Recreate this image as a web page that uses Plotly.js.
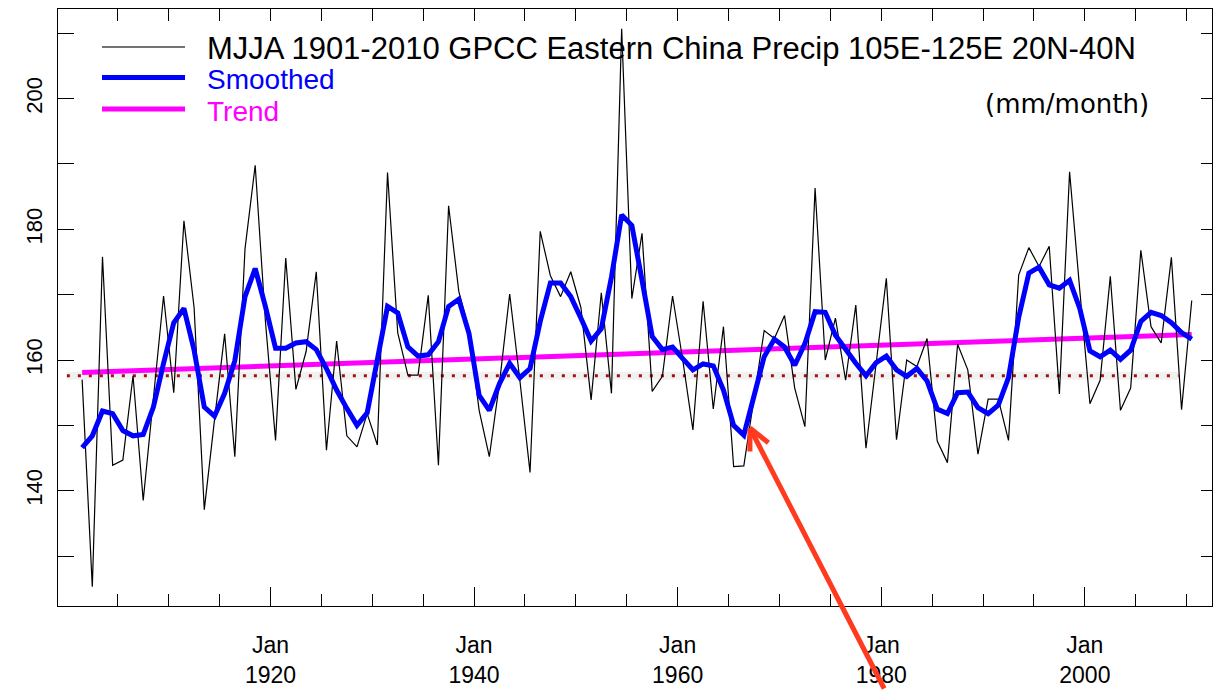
<!DOCTYPE html>
<html><head><meta charset="utf-8">
<script src="https://cdn.plot.ly/plotly-3.0.1.min.js"></script>
<style>html,body{margin:0;padding:0;background:#fff}#chart{width:1217px;height:690px}</style>
</head><body><div id="chart"></div>
<script>
// ---- data ----
const firstYear = 1901;
const precip = [
 157.0,125.3,175.8,143.9,144.7,157.6,138.5,154.1,169.8,155.0,
 181.3,168.0,137.1,150.8,164.0,145.2,177.0,189.8,166.0,147.7,
 175.6,155.5,161.3,173.5,146.2,162.9,148.4,146.7,151.8,147.0,
 188.7,164.2,157.7,157.7,169.9,143.9,183.6,170.5,164.6,152.3,
 145.2,156.5,170.1,156.9,142.8,179.7,172.9,169.7,173.5,168.0,
 153.9,170.3,154.9,210.7,169.4,179.4,155.2,157.5,169.8,160.0,
 149.3,169.0,152.5,165.1,143.7,143.8,153.9,164.5,163.3,166.8,
 155.7,149.8,186.3,160.0,166.4,156.9,168.4,146.5,159.5,172.5,
 147.8,160.0,159.0,163.3,147.6,144.3,162.4,158.5,145.6,154.0,
 154.0,147.7,173.0,177.2,174.3,177.4,154.8,188.8,170.7,153.3,
 156.9,172.8,152.3,155.7,176.8,165.1,162.6,175.7,152.4,169.1
];
const smoothed = [
 146.6,148.4,152.2,151.8,149.2,148.4,148.6,152.8,159.5,165.7,
 167.9,161.5,152.8,151.4,154.9,159.9,169.7,174.0,168.2,161.8,
 161.8,162.6,162.8,161.6,158.7,155.4,152.6,150.0,151.9,160.2,
 168.2,167.2,162.0,160.6,160.8,162.8,168.2,169.3,164.1,154.6,
 152.3,156.4,159.5,157.3,158.7,165.9,171.8,171.8,169.7,166.4,
 162.9,164.8,172.7,182.2,180.6,172.2,163.6,161.6,162.0,160.2,
 158.5,159.4,159.1,155.4,150.0,148.5,154.4,160.5,163.2,162.0,
 159.2,162.5,167.4,167.3,163.8,161.5,159.5,157.6,159.6,160.6,
 158.5,157.5,158.7,156.8,152.5,151.8,155.0,155.1,152.7,151.8,
 153.1,157.3,166.5,173.3,174.2,171.5,171.0,172.2,167.9,161.4,
 160.5,161.5,160.1,161.5,165.9,167.3,166.8,165.7,164.2,163.2
];
const trendYears = [1901, 2010];
const trendValues = [158.1, 163.9];
const meanSpan = [1900.0, 2009.2];
const meanLevel = 157.6;
const majorTickYears = [1920, 1940, 1960, 1980, 2000];
const majorTickText = ['Jan<br>1920', 'Jan<br>1940', 'Jan<br>1960', 'Jan<br>1980', 'Jan<br>2000'];
const minorTickYears = [1905,1910,1915,1925,1930,1935,1945,1950,1955,1965,1970,1975,1985,1990,1995,2005,2010];
const topTickYears = [1905,1910,1915,1920,1925,1930,1935,1940,1945,1950,1955,1960,1965,1970,1975,1980,1985,1990,1995,2000,2005,2010];
const yTickVals = [130, 140, 150, 160, 170, 180, 190, 200, 210];
const yTickText = ['', '140', '', '160', '', '180', '', '200', ''];
const legendLabels = ['MJJA 1901-2010 GPCC Eastern China Precip 105E-125E 20N-40N', 'Smoothed', 'Trend'];
const unitsLabel = '(mm/month)';
const arrowTarget = {year: 1967.1, value: 149.6};

// ---- build ----
const xMid = precip.map((v, i) => firstYear + i + 0.5);
const xRange = [1899.13, 2012.49];
const yRange = [122.36, 213.71];
const FONT = 'Liberation Sans, Arial, Helvetica, sans-serif';
const RED = '#ff3a1e';

const traces = [
  {x: meanSpan, y: [meanLevel, meanLevel], mode: 'lines', line: {color: 'rgba(150,150,150,0.13)', width: 8}, hoverinfo: 'skip'},
  {x: meanSpan, y: [meanLevel, meanLevel], mode: 'lines', line: {color: '#a31010', width: 3, dash: '3px,8px'}, hoverinfo: 'skip'},
  {x: trendYears.map(v => v + 0.5), y: trendValues, mode: 'lines', line: {color: '#ff00ff', width: 5}},
  {x: xMid, y: precip, mode: 'lines', line: {color: '#000', width: 1.2}},
  {x: xMid, y: smoothed, mode: 'lines', line: {color: '#0000ff', width: 5}},
  {x: [], y: [], xaxis: 'x2', yaxis: 'y2', mode: 'lines'}
];

const L = 58, R = 1212, T = 9, B = 606;
const px = v => (v - L) / (R - L);
const py = v => (B - v) / (B - T);

const layout = {
  width: 1217, height: 690,
  margin: {l: L, r: 1217 - R, t: T, b: 690 - B, pad: 0},
  paper_bgcolor: '#fff', plot_bgcolor: '#fff',
  showlegend: false,
  font: {family: FONT, color: '#000'},
  xaxis: {
    range: xRange, tickmode: 'array', tickvals: majorTickYears, ticktext: majorTickText,
    ticks: 'inside', ticklen: 19, tickwidth: 1, tickcolor: '#000',
    showline: true, linecolor: '#000', linewidth: 1.3, mirror: true,
    showgrid: false, zeroline: false,
    tickfont: {family: FONT, size: 23, color: '#000'}, ticklabelstandoff: 18,
    minor: {tickmode: 'array', tickvals: minorTickYears, ticks: 'inside', ticklen: 12, tickwidth: 1, tickcolor: '#000', showgrid: false}
  },
  xaxis2: {
    range: xRange, overlaying: 'x', side: 'top', anchor: 'y2',
    tickmode: 'array', tickvals: topTickYears, ticks: 'inside', ticklen: 12, tickwidth: 1, tickcolor: '#000',
    showticklabels: false, showgrid: false, zeroline: false, showline: false
  },
  yaxis: {
    range: yRange, tickmode: 'array', tickvals: yTickVals, ticktext: yTickText,
    ticks: 'inside', ticklen: 16, tickwidth: 1, tickcolor: '#000', tickangle: -90,
    showline: true, linecolor: '#000', linewidth: 1.3, mirror: true,
    showgrid: false, zeroline: false,
    tickfont: {family: FONT, size: 22, color: '#000'}, ticklabelstandoff: 6
  },
  yaxis2: {
    range: yRange, overlaying: 'y', side: 'right', anchor: 'x2',
    tickmode: 'array', tickvals: yTickVals, ticks: 'inside', ticklen: 11, tickwidth: 1, tickcolor: '#000',
    showticklabels: false, showgrid: false, zeroline: false, showline: false
  },
  shapes: [
    {type: 'line', xref: 'paper', yref: 'paper', x0: px(102), x1: px(185), y0: py(47), y1: py(47), line: {color: '#444', width: 1.3}},
    {type: 'line', xref: 'paper', yref: 'paper', x0: px(102), x1: px(185), y0: py(77.5), y1: py(77.5), line: {color: '#0000ff', width: 5}},
    {type: 'line', xref: 'paper', yref: 'paper', x0: px(102), x1: px(185), y0: py(109), y1: py(109), line: {color: '#ff00ff', width: 5}}
  ],
  annotations: [
    {xref: 'paper', yref: 'paper', x: px(205), y: py(48.3), xanchor: 'left', yanchor: 'middle', showarrow: false,
     text: legendLabels[0], font: {family: FONT, size: 31, color: '#000'}},
    {xref: 'paper', yref: 'paper', x: px(205), y: py(79), xanchor: 'left', yanchor: 'middle', showarrow: false,
     text: legendLabels[1], font: {family: FONT, size: 28, color: '#0000ff'}},
    {xref: 'paper', yref: 'paper', x: px(205), y: py(111.5), xanchor: 'left', yanchor: 'middle', showarrow: false,
     text: legendLabels[2], font: {family: FONT, size: 28, color: '#ff00ff'}},
    {xref: 'paper', yref: 'paper', x: px(983), y: py(104), xanchor: 'left', yanchor: 'middle', showarrow: false,
     text: unitsLabel, font: {family: 'DejaVu Sans, Verdana, sans-serif', size: 26, color: '#000'}},
    {x: arrowTarget.year, y: arrowTarget.value, xref: 'x', yref: 'y', ax: 135, ay: 268, text: '', showarrow: true,
     arrowhead: 0, arrowwidth: 5, arrowcolor: RED, standoff: 0},
    {x: arrowTarget.year, y: arrowTarget.value, xref: 'x', yref: 'y', ax: 0, ay: 25, text: '', showarrow: true,
     arrowhead: 0, arrowwidth: 5, arrowcolor: RED, standoff: 0},
    {x: arrowTarget.year, y: arrowTarget.value, xref: 'x', yref: 'y', ax: 20, ay: 16, text: '', showarrow: true,
     arrowhead: 0, arrowwidth: 5, arrowcolor: RED, standoff: 0}
  ]
};

Plotly.newPlot('chart', traces, layout, {displayModeBar: false, staticPlot: true});
</script>
</body></html>
